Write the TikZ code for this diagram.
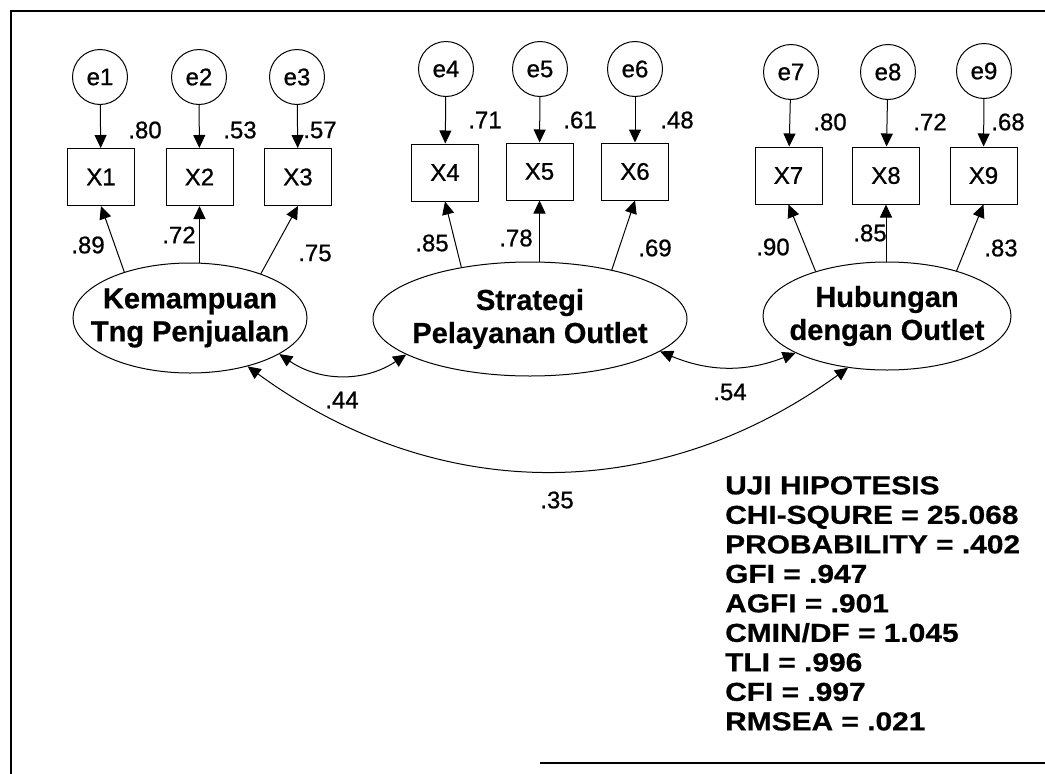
\documentclass[tikz,border=0pt]{standalone}
\usepackage{fontspec}
\setmainfont{Liberation Sans}
\newfontfamily\regfont[FakeBold=0.8]{Liberation Sans}
\newfontfamily\latfont[FakeBold=0.6]{Liberation Sans Bold}
\newfontfamily\statfont[FakeStretch=1.15,FakeBold=0.6]{Liberation Sans Bold}
\usetikzlibrary{arrows.meta,shapes.geometric}
\tikzset{
  tip/.tip={Triangle[length=13pt,width=12pt]},
  arr/.style={-tip, line width=1pt},
  dbl/.style={tip-tip, line width=1pt},
  err/.style={circle, draw, line width=1pt, minimum size=55pt, inner sep=0pt, font=\regfont\fontsize{24}{28}\selectfont},
  obs/.style={rectangle, draw, line width=1pt, minimum width=67pt, minimum height=57pt, inner sep=0pt, font=\regfont\fontsize{24}{28}\selectfont},
  lat/.style={ellipse, draw, line width=1pt, inner sep=0pt},
  lattext/.style={align=center, inner sep=0pt, font=\latfont\fontsize{29}{33}\selectfont},
  lbl/.style={inner sep=0pt, font=\regfont\fontsize{24}{28}\selectfont},
  stat/.style={anchor=north west, inner sep=0pt, align=left, font=\statfont\fontsize{26}{29.5}\selectfont},
  frameline/.style={line width=2.2pt},
}
\begin{document}
\begin{tikzpicture}[x=1pt,y=-1pt]
\useasboundingbox (0,0) rectangle (1045,774);
\coordinate (ftr) at (1045,11);
\coordinate (ftl) at (11,11);
\coordinate (fbl) at (11,774);
\coordinate (bl) at (540,763);
\coordinate (br) at (1045,763);
\draw[frameline] (ftr) -- (ftl) -- (fbl);
\draw[frameline] (bl) -- (br);

% latent variables
\node[lat, minimum width=234pt, minimum height=110pt] (k) at (190,318) {};
\node[lattext] at (k) {Kemampuan\\Tng Penjualan};
\node[lat, minimum width=314pt, minimum height=114pt] (s) at (530,319) {};
\node[lattext] at (s) {Strategi\\Pelayanan Outlet};
\node[lat, minimum width=248pt, minimum height=108pt] (h) at (887,316) {};
\node[lattext] at (h) {Hubungan\\dengan Outlet};

% error terms
\node[err] (e1) at (100,77) {e1};
\node[err] (e2) at (199,77) {e2};
\node[err] (e3) at (297,77) {e3};
\node[err] (e4) at (446,69) {e4};
\node[err] (e5) at (540,69) {e5};
\node[err] (e6) at (635,69) {e6};
\node[err] (e7) at (791,72) {e7};
\node[err] (e8) at (888,72) {e8};
\node[err] (e9) at (984,71) {e9};

% observed variables
\node[obs] (x1) at (101,177) {X1};
\node[obs] (x2) at (199.5,177) {X2};
\node[obs] (x3) at (298,177) {X3};
\node[obs] (x4) at (445,172.5) {X4};
\node[obs] (x5) at (539.5,171.5) {X5};
\node[obs] (x6) at (635,171.5) {X6};
\node[obs] (x7) at (788.5,175.5) {X7};
\node[obs] (x8) at (886,175.5) {X8};
\node[obs] (x9) at (983.5,175.5) {X9};

% error arrows
\foreach \i in {1,...,9} {\draw[arr] (e\i) -- (x\i);}

% loadings
\draw[arr] (k.145) -- (x1.south);
\draw[arr] (x2.south |- k.north) -- (x2.south);
\draw[arr] (k.32) -- (x3.south);
\draw[arr] (s.143) -- (x4.south);
\draw[arr] (x5.south |- s.north) -- (x5.south);
\draw[arr] (s.31) -- (x6.south);
\draw[arr] (h.148) -- (x7.south);
\draw[arr] (x8.south |- h.north) -- (x8.south);
\draw[arr] (h.33) -- (x9.south);

% covariances
\draw[dbl] (k.-22) to[bend right=34] (s.196);
\draw[dbl] (s.-14) to[bend right=22] (h.202);
\draw[dbl] (k.-40) to[bend right=36] (h.233);

% labels
\node[lbl] at (145,130) {.80};
\node[lbl] at (240,130) {.53};
\node[lbl] at (320,130) {.57};
\node[lbl] at (485,120) {.71};
\node[lbl] at (580,120) {.61};
\node[lbl] at (677,120) {.48};
\node[lbl] at (830,122) {.80};
\node[lbl] at (930,122) {.72};
\node[lbl] at (1008,122) {.68};
\node[lbl] at (88,245) {.89};
\node[lbl] at (179,235) {.72};
\node[lbl] at (315,253) {.75};
\node[lbl] at (432,243) {.85};
\node[lbl] at (516,238) {.78};
\node[lbl] at (655,248) {.69};
\node[lbl] at (773,247) {.90};
\node[lbl] at (870,233) {.85};
\node[lbl] at (1001,248) {.83};
\node[lbl] at (342,400) {.44};
\node[lbl] at (730,392) {.54};
\node[lbl] at (557,500) {.35};

% fit statistics
\node[stat] (stats) at (725,476) {UJI HIPOTESIS\\CHI-SQURE = 25.068\\PROBABILITY = .402\\GFI = .947\\AGFI = .901\\CMIN/DF = 1.045\\TLI = .996\\CFI = .997\\RMSEA = .021};
\end{tikzpicture}
\end{document}
